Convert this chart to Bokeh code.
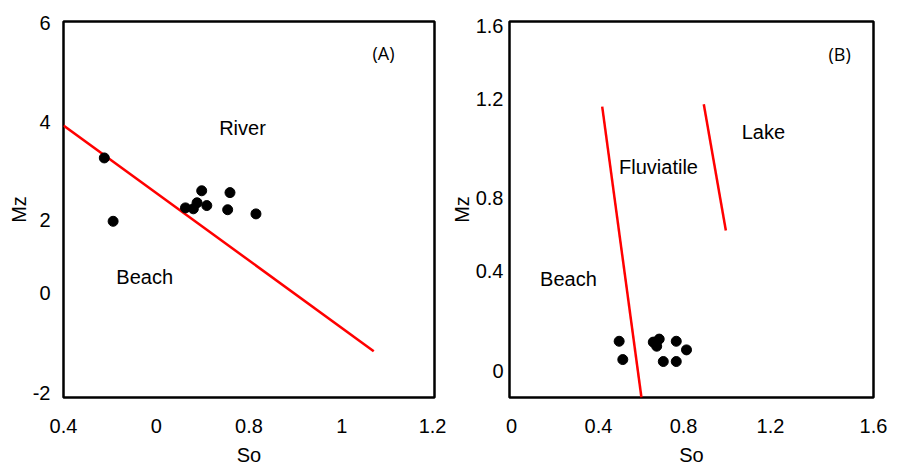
from bokeh.plotting import figure
from bokeh.models import FixedTicker, Range1d, Label
from bokeh.layouts import row
from bokeh.embed import file_html
from bokeh.resources import INLINE

# ---------------- Panel (A) data ----------------
a_so = [0.488, 0.507, 0.663, 0.680, 0.688, 0.698, 0.709, 0.759, 0.754, 0.815]
a_mz = [3.09, 1.72, 2.01, 1.99, 2.12, 2.38, 2.06, 2.34, 1.97, 1.88]
a_line_so = [0.40, 1.069]
a_line_mz = [3.79, -1.089]
a_xticks = [0.4, 0.6, 0.8, 1.0, 1.2]
a_xlabels = ["0.4", "0", "0.8", "1", "1.2"]
a_yticks = [-2.0, 0.16, 1.74, 3.86, 6.0]
a_ylabels = ["-2", "0", "2", "4", "6"]

# ---------------- Panel (B) data ----------------
b_so = [0.482, 0.498, 0.632, 0.647, 0.658, 0.733, 0.778, 0.676, 0.733]
b_mz = [0.136, 0.051, 0.132, 0.113, 0.146, 0.136, 0.096, 0.042, 0.042]
b_line1_so = [0.4075, 0.580]
b_line1_mz = [1.225, -0.125]
b_line2_so = [0.854, 0.951]
b_line2_mz = [1.236, 0.650]
b_xticks = [0.009, 0.391, 0.765, 1.147, 1.6]
b_xlabels = ["0", "0.4", "0.8", "1.2", "1.6"]
b_yticks = [0.0, 0.46, 0.803, 1.262, 1.601]
b_ylabels = ["0", "0.4", "0.8", "1.2", "1.6"]

FONT = "Liberation Sans"
FS = "20px"


def style(p, xticks, xlabels, yticks, ylabels, y_std, y_astd, x_align, y_align):
    p.outline_line_color = "black"
    p.outline_line_width = 2.5
    p.xgrid.visible = False
    p.ygrid.visible = False
    for ax in (p.xaxis[0], p.yaxis[0]):
        ax.axis_line_color = None
        ax.major_tick_line_color = None
        ax.minor_tick_line_color = None
        ax.major_tick_out = 0
        ax.major_tick_in = 0
        ax.major_label_text_font = FONT
        ax.major_label_text_font_size = FS
        ax.major_label_text_color = "black"
        ax.axis_label_text_font = FONT
        ax.axis_label_text_font_size = FS
        ax.axis_label_text_font_style = "normal"
        ax.axis_label_text_color = "black"
    p.xaxis[0].ticker = FixedTicker(ticks=xticks)
    p.xaxis[0].major_label_overrides = {t: l for t, l in zip(xticks, xlabels)}
    p.yaxis[0].ticker = FixedTicker(ticks=yticks)
    p.yaxis[0].major_label_overrides = {t: l for t, l in zip(yticks, ylabels)}
    p.xaxis[0].major_label_standoff = 21
    p.xaxis[0].axis_label_standoff = 8
    p.xaxis[0].axis_label_text_align = x_align
    p.yaxis[0].major_label_standoff = y_std
    p.yaxis[0].axis_label_standoff = y_astd
    p.yaxis[0].axis_label_text_align = y_align


def add_text(p, x, y, t, font=FONT, size=FS):
    p.add_layout(Label(x=x, y=y, text=t, text_align="center", text_baseline="middle",
                       text_font=font, text_font_size=size, text_color="black"))


# ---------------- Panel A ----------------
pa = figure(frame_width=371, frame_height=376, output_backend="svg", toolbar_location=None,
            x_range=Range1d(0.4, 1.2), y_range=Range1d(-2.09, 6.04),
            x_axis_label="So", y_axis_label="Mz",
            min_border_left=63, min_border_right=12, min_border_top=21, min_border_bottom=60)
style(pa, a_xticks, a_xlabels, a_yticks, a_ylabels, 13, 0, "right", "right")
pa.line(a_line_so, a_line_mz, line_color="#ff0000", line_width=2.5)
pa.scatter(a_so, a_mz, size=10, color="black")
add_text(pa, 1.090, 5.35, "(A)", font="Open Sans", size="18px")
add_text(pa, 0.786, 3.748, "River")
add_text(pa, 0.575, 0.505, "Beach")

# ---------------- Panel B ----------------
pb = figure(frame_width=364, frame_height=376, output_backend="svg", toolbar_location=None,
            x_range=Range1d(0, 1.6), y_range=Range1d(-0.125, 1.62),
            x_axis_label="So", y_axis_label="Mz",
            min_border_left=63, min_border_right=20, min_border_top=21, min_border_bottom=60)
style(pb, b_xticks, b_xlabels, b_yticks, b_ylabels, 6, 0, "left", "right")
pb.line(b_line1_so, b_line1_mz, line_color="#ff0000", line_width=2.5)
pb.line(b_line2_so, b_line2_mz, line_color="#ff0000", line_width=2.5)
pb.scatter(b_so, b_mz, size=10, color="black")
add_text(pb, 1.451, 1.471, "(B)", font="Open Sans", size="18px")
add_text(pb, 1.116, 1.105, "Lake")
add_text(pb, 0.655, 0.947, "Fluviatile")
add_text(pb, 0.259, 0.427, "Beach")

layout = row(pa, pb, spacing=0)
open("out.html", "w").write(file_html(layout, INLINE))
